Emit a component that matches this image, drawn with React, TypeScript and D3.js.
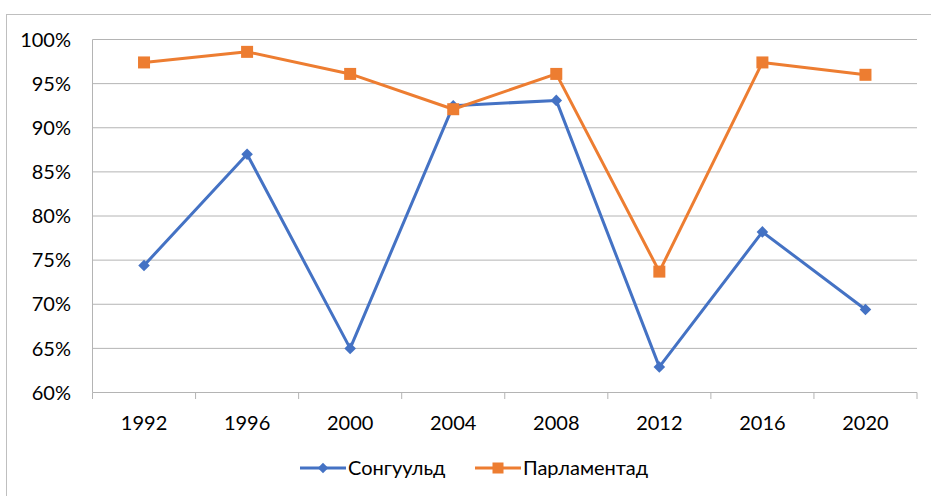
import React, { useEffect, useRef } from 'react';
import * as d3 from 'd3';

const years = ['1992', '1996', '2000', '2004', '2008', '2012', '2016', '2020'];
const songuuld = [74.4, 87.0, 65.0, 92.5, 93.1, 62.9, 78.2, 69.4];
const parlament = [97.4, 98.6, 96.1, 92.1, 96.1, 73.7, 97.4, 96.0];
const yTicks = [60, 65, 70, 75, 80, 85, 90, 95, 100];
const seriesNames = ['Сонгуульд', 'Парламентад'];

export default function App() {
    const svgRef = useRef<SVGSVGElement>(null);

    const width = 931;
    const height = 496;

    const margin = { top: 39.5, right: 14, bottom: 103.5, left: 92.5 };
    const innerWidth = width - margin.left - margin.right;
    const innerHeight = height - margin.top - margin.bottom;

    const font = 'Lato, "Open Sans", sans-serif';

    useEffect(() => {
        const svg = d3.select(svgRef.current);
        svg.selectAll('*').remove();

        // outer chart border
        svg.append('rect')
            .attr('x', 6.5)
            .attr('y', 14.5)
            .attr('width', 940)
            .attr('height', 500)
            .attr('fill', 'white')
            .attr('stroke', '#bfbfbf')
            .attr('stroke-width', 1);

        const g = svg.append('g')
            .attr('transform', `translate(${margin.left}, ${margin.top})`);

        const xScale = d3.scaleBand()
            .domain(years)
            .range([0, innerWidth]);

        const yScale = d3.scaleLinear()
            .domain([60, 100])
            .range([innerHeight, 0]);

        // gridlines
        g.selectAll('.grid')
            .data(yTicks)
            .enter()
            .append('line')
            .attr('x1', 0)
            .attr('x2', innerWidth)
            .attr('y1', d => yScale(d))
            .attr('y2', d => yScale(d))
            .attr('stroke', '#b4b4b4')
            .attr('stroke-width', 1);

        // left axis line
        g.append('line')
            .attr('x1', 0).attr('x2', 0)
            .attr('y1', 0).attr('y2', innerHeight)
            .attr('stroke', '#b4b4b4');

        // x tick marks
        const tickXs = years.map(y => xScale(y) as number).concat([innerWidth]);
        g.selectAll('.xtick')
            .data(tickXs)
            .enter()
            .append('line')
            .attr('x1', d => d).attr('x2', d => d)
            .attr('y1', innerHeight).attr('y2', innerHeight + 6.5)
            .attr('stroke', '#b4b4b4');

        // y labels
        g.selectAll('.ylab')
            .data(yTicks)
            .enter()
            .append('text')
            .attr('x', -21.5)
            .attr('y', d => yScale(d))
            .attr('dy', '0.36em')
            .attr('text-anchor', 'end')
            .style('font-family', font)
            .style('font-size', '20px')
            .attr('fill', '#000')
            .text(d => `${d}%`);

        // x labels
        g.selectAll('.xlab')
            .data(years)
            .enter()
            .append('text')
            .attr('x', d => (xScale(d) as number) + xScale.bandwidth() / 2)
            .attr('y', innerHeight + 37)
            .attr('text-anchor', 'middle')
            .style('font-family', font)
            .style('font-size', '20px')
            .attr('fill', '#000')
            .text(d => d);

        const line = d3.line<number>()
            .x((d, i) => (xScale(years[i]) as number) + xScale.bandwidth() / 2)
            .y(d => yScale(d));

        // blue series
        g.append('path')
            .datum(songuuld)
            .attr('d', line)
            .attr('fill', 'none')
            .attr('stroke', '#4472c4')
            .attr('stroke-width', 3)
            .attr('stroke-linejoin', 'round');

        g.selectAll('.diamond')
            .data(songuuld)
            .enter()
            .append('path')
            .attr('d', d3.symbol().type(d3.symbolDiamond2).size(85))
            .attr('transform', (d, i) => `translate(${(xScale(years[i]) as number) + xScale.bandwidth() / 2}, ${yScale(d)})`)
            .attr('fill', '#4472c4');

        // orange series
        g.append('path')
            .datum(parlament)
            .attr('d', line)
            .attr('fill', 'none')
            .attr('stroke', '#ed7d31')
            .attr('stroke-width', 3)
            .attr('stroke-linejoin', 'round');

        g.selectAll('.square')
            .data(parlament)
            .enter()
            .append('rect')
            .attr('x', (d, i) => (xScale(years[i]) as number) + xScale.bandwidth() / 2 - 6)
            .attr('y', d => yScale(d) - 6)
            .attr('width', 12)
            .attr('height', 12)
            .attr('fill', '#ed7d31');

        // legend
        const legendY = 468;
        const legendItems = [
            { name: seriesNames[0], color: '#4472c4', x: 300, shape: 'diamond' },
            { name: seriesNames[1], color: '#ed7d31', x: 475, shape: 'square' }
        ];
        const lg = svg.append('g');
        legendItems.forEach(item => {
            lg.append('line')
                .attr('x1', item.x).attr('x2', item.x + 46)
                .attr('y1', legendY).attr('y2', legendY)
                .attr('stroke', item.color)
                .attr('stroke-width', 3);
            if (item.shape === 'diamond') {
                lg.append('path')
                    .attr('d', d3.symbol().type(d3.symbolDiamond2).size(70))
                    .attr('transform', `translate(${item.x + 23}, ${legendY})`)
                    .attr('fill', item.color);
            } else {
                lg.append('rect')
                    .attr('x', item.x + 23 - 5.5).attr('y', legendY - 5.5)
                    .attr('width', 11).attr('height', 11)
                    .attr('fill', item.color);
            }
            lg.append('text')
                .attr('x', item.x + 48)
                .attr('y', legendY)
                .attr('dy', '0.36em')
                .style('font-family', font)
                .style('font-size', '20px')
                .attr('fill', '#000')
                .text(item.name);
        });
    }, []);

    return (
        <div style={{ position: 'absolute', left: 0, top: 0 }}>
            <svg ref={svgRef} width={width} height={height} style={{ display: 'block' }}></svg>
        </div>
    );
}
